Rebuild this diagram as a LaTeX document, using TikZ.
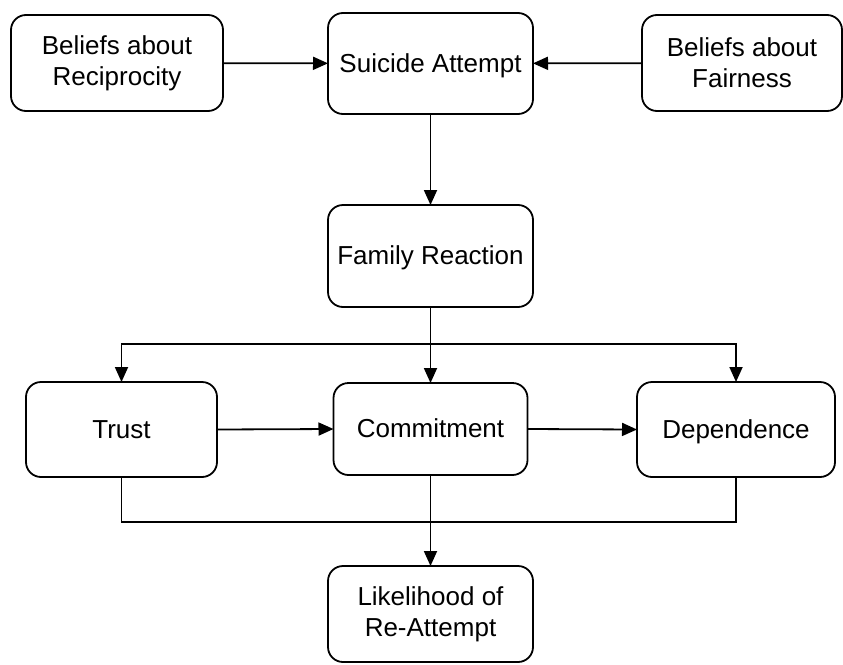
\documentclass[tikz,border=0pt]{standalone}
\usepackage{fontspec}
\setmainfont{Liberation Sans}
\usetikzlibrary{arrows.meta}

\begin{document}
\begin{tikzpicture}[x=1pt, y=-1pt,
    box/.style={draw, line width=1.8pt, rounded corners=15pt, align=center,
      inner sep=0pt, outer sep=0pt, font=\fontsize{26}{31}\selectfont},
    oneline/.style={text height=22pt, text depth=5pt},
    arr/.style={line width=1.8pt, -{Triangle[length=15pt,width=13pt]}},
    link/.style={line width=1.8pt}]
\useasboundingbox (0,0) rectangle (843,664);
% top row
\node[box, minimum width=212pt, minimum height=96pt] (recip) at (117,63) {Beliefs about\\Reciprocity};
\node[box, oneline, minimum width=205pt, minimum height=101pt] (suicide) at (430.5,63.5) {Suicide Attempt};
\node[box, minimum width=200pt, minimum height=96pt] (fair) at (742,63) {Beliefs about\\Fairness};
\node[box, oneline, minimum width=205pt, minimum height=102pt] (family) at (430.5,256) {Family Reaction};
% middle row
\node[box, oneline, minimum width=191pt, minimum height=95pt] (trust) at (121.5,429.5) {Trust};
\node[box, oneline, minimum width=194pt, minimum height=92pt] (commit) at (430.5,429) {Commitment};
\node[box, oneline, minimum width=198pt, minimum height=95pt] (depend) at (736,429.5) {Dependence};
\node[box, minimum width=205pt, minimum height=96pt] (likely) at (430.5,614) {Likelihood of\\Re-Attempt};
\coordinate (split) at (430.5,344);
\coordinate (merge) at (430.5,522);
% connectors
\draw[arr] (recip) -- (suicide);
\draw[arr] (fair) -- (suicide);
\draw[arr] (suicide) -- (family);
\draw[link] (family) -- (split);
\draw[arr] (split) -| (trust.north);
\draw[arr] (split) -| (depend.north);
\draw[arr] (split) -- (commit);
\draw[arr] (trust.east) -- (commit.west);
\draw[arr] (commit.east) -- (depend.west);
\draw[link] (trust.south) |- (merge) -| (depend.south);
\draw[arr] (commit) -- (likely);
\end{tikzpicture}
\end{document}
